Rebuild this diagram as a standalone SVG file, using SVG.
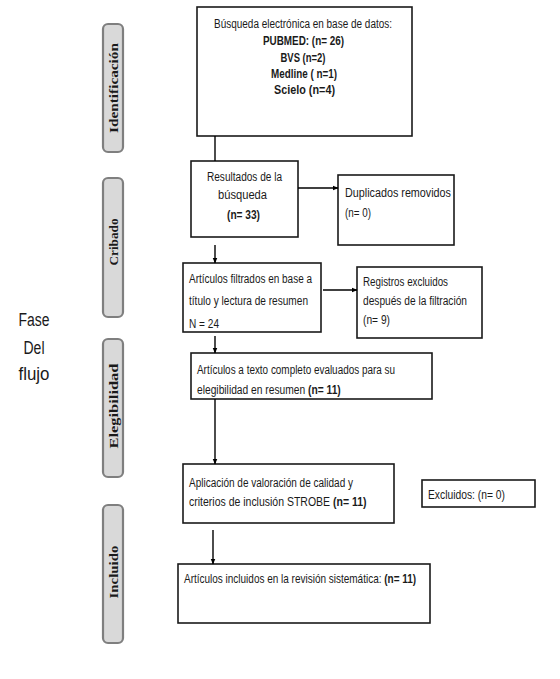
<svg xmlns="http://www.w3.org/2000/svg" width="560" height="679" viewBox="0 0 560 679">
<defs>
<marker id="ah" viewBox="0 0 10 10" refX="9" refY="5" markerWidth="6" markerHeight="6" orient="auto" markerUnits="userSpaceOnUse">
<path d="M0,1 L10,5 L0,9 Z" fill="#000"/>
</marker>
<style>
.box{fill:#fff;stroke:#1a1a1a;stroke-width:1.6}
.phase{fill:#d9d9d9;stroke:#7f7f7f;stroke-width:2.2}
.t{font-family:"Liberation Sans",Arial,sans-serif;font-size:12.5px;fill:#1a1a1a}
.b{font-weight:bold}
.pt{font-family:"Liberation Serif","Times New Roman",serif;font-size:13px;font-weight:bold;fill:#1a1a1a}
.side{font-family:"Liberation Sans",Arial,sans-serif;font-size:18px;fill:#1a1a1a}
.ln{stroke:#000;stroke-width:1.4;fill:none}
</style>
</defs>
<rect width="560" height="679" fill="#fff"/>

<g id="fase">
<text class="side" x="34" y="326" text-anchor="middle" textLength="31" lengthAdjust="spacingAndGlyphs">Fase</text>
<text class="side" x="34" y="354" text-anchor="middle" textLength="21" lengthAdjust="spacingAndGlyphs">Del</text>
<text class="side" x="34" y="380" text-anchor="middle" textLength="31" lengthAdjust="spacingAndGlyphs">flujo</text>
</g>

<g id="phase-identificacion">
<rect class="phase" x="103" y="24" width="20" height="128" rx="5"/>
<text class="pt" transform="translate(117.5,88) rotate(-90)" text-anchor="middle" textLength="90" lengthAdjust="spacingAndGlyphs">Identificación</text>
</g>
<g id="phase-cribado">
<rect class="phase" x="103" y="178" width="20" height="139" rx="5"/>
<text class="pt" transform="translate(117.5,242) rotate(-90)" text-anchor="middle" textLength="47" lengthAdjust="spacingAndGlyphs">Cribado</text>
</g>
<g id="phase-elegibilidad">
<rect class="phase" x="103" y="339" width="20" height="138" rx="5"/>
<text class="pt" transform="translate(117.5,406) rotate(-90)" text-anchor="middle" textLength="85" lengthAdjust="spacingAndGlyphs">Elegibilidad</text>
</g>
<g id="phase-incluido">
<rect class="phase" x="103" y="505" width="20" height="138" rx="5"/>
<text class="pt" transform="translate(117.5,572) rotate(-90)" text-anchor="middle" textLength="53" lengthAdjust="spacingAndGlyphs">Incluido</text>
</g>

<g id="n1">
<rect class="box" x="197" y="7" width="215" height="129"/>
<text class="t" x="303" y="28" text-anchor="middle" textLength="178" lengthAdjust="spacingAndGlyphs">Búsqueda electrónica en base de datos:</text>
<text class="t b" x="303.5" y="45" text-anchor="middle" textLength="81" lengthAdjust="spacingAndGlyphs">PUBMED: (n= 26)</text>
<text class="t b" x="303" y="62" text-anchor="middle" textLength="45" lengthAdjust="spacingAndGlyphs">BVS (n=2)</text>
<text class="t b" x="304" y="78" text-anchor="middle" textLength="66" lengthAdjust="spacingAndGlyphs">Medline ( n=1)</text>
<text class="t b" x="304.5" y="94" text-anchor="middle" textLength="61" lengthAdjust="spacingAndGlyphs">Scielo  (n=4)</text>
</g>

<g id="n2">
<rect class="box" x="191" y="161" width="107" height="76"/>
<text class="t" x="244.5" y="181" text-anchor="middle" textLength="75" lengthAdjust="spacingAndGlyphs">Resultados de la</text>
<text class="t" x="242.5" y="199" text-anchor="middle" textLength="49" lengthAdjust="spacingAndGlyphs">búsqueda</text>
<text class="t b" x="243.5" y="219" text-anchor="middle" textLength="33" lengthAdjust="spacingAndGlyphs">(n= 33)</text>
</g>

<g id="n3">
<rect class="box" x="338" y="175" width="116" height="70"/>
<text class="t" x="345" y="197" textLength="106" lengthAdjust="spacingAndGlyphs">Duplicados removidos</text>
<text class="t" x="345" y="217" textLength="26" lengthAdjust="spacingAndGlyphs">(n= 0)</text>
</g>

<g id="n4">
<rect class="box" x="183" y="263" width="138" height="69"/>
<text class="t" x="189" y="283" textLength="123" lengthAdjust="spacingAndGlyphs">Artículos filtrados en base a</text>
<text class="t" x="189" y="305" textLength="119" lengthAdjust="spacingAndGlyphs">título y lectura de resumen</text>
<text class="t" x="189" y="328" textLength="30" lengthAdjust="spacingAndGlyphs">N = 24</text>
</g>

<g id="n5">
<rect class="box" x="357" y="267" width="125" height="71"/>
<text class="t" x="363" y="286" textLength="85" lengthAdjust="spacingAndGlyphs">Registros excluidos</text>
<text class="t" x="363" y="305" textLength="104" lengthAdjust="spacingAndGlyphs">después de la filtración</text>
<text class="t" x="363" y="324" textLength="27" lengthAdjust="spacingAndGlyphs">(n=  9)</text>
</g>

<g id="n6">
<rect class="box" x="191" y="353" width="241" height="46"/>
<text class="t" x="197" y="374" textLength="198" lengthAdjust="spacingAndGlyphs">Artículos a texto completo evaluados para su</text>
<text class="t" transform="translate(197,394) scale(0.82,1)">elegibilidad  en resumen <tspan class="b">(n= 11)</tspan></text>
</g>

<g id="n7">
<rect class="box" x="183" y="464" width="211" height="59"/>
<text class="t" x="189" y="487" textLength="164" lengthAdjust="spacingAndGlyphs">Aplicación de valoración de calidad y</text>
<text class="t" transform="translate(189,506) scale(0.84,1)">criterios de inclusión STROBE <tspan class="b">(n= 11)</tspan></text>
</g>

<g id="n8">
<rect class="box" x="422" y="480" width="113" height="27"/>
<text class="t" x="428" y="499" textLength="77" lengthAdjust="spacingAndGlyphs">Excluidos: (n=  0)</text>
</g>

<g id="n9">
<rect class="box" x="178" y="564" width="252" height="59"/>
<text class="t" transform="translate(184,583) scale(0.80,1)">Artículos incluidos en la revisión sistemática: <tspan class="b">(n= 11)</tspan></text>
</g>

<g id="connectors">
<line class="ln" x1="215" y1="136" x2="215" y2="161"/>
<line class="ln" x1="298" y1="188" x2="338" y2="188" marker-end="url(#ah)"/>
<line class="ln" x1="215" y1="245" x2="215" y2="263" marker-end="url(#ah)"/>
<line class="ln" x1="323" y1="290" x2="357" y2="290" marker-end="url(#ah)"/>
<line class="ln" x1="215" y1="336" x2="215" y2="353" marker-end="url(#ah)"/>
<line class="ln" x1="215" y1="399" x2="215" y2="464" marker-end="url(#ah)"/>
<line class="ln" x1="213" y1="530" x2="213" y2="564" marker-end="url(#ah)"/>
</g>
</svg>
